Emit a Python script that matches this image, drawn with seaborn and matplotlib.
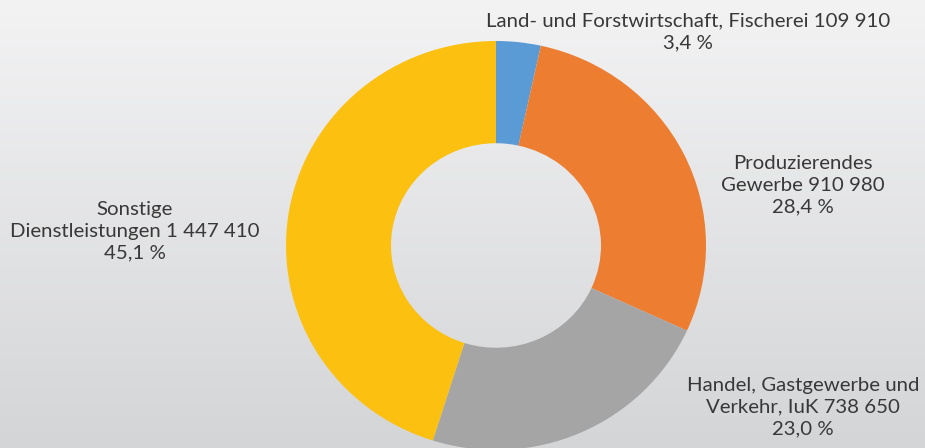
import numpy as np
import matplotlib
matplotlib.use("Agg")
import matplotlib.pyplot as plt
import seaborn as sns

categories = ["Land- und Forstwirtschaft, Fischerei", "Produzierendes\nGewerbe",
              "Handel, Gastgewerbe und\nVerkehr, IuK", "Sonstige\nDienstleistungen"]
values = [109910, 910980, 738650, 1447410]
value_labels = ["109 910", "910 980", "738 650", "1 447 410"]
percent_labels = ["3,4 %", "28,4 %", "23,0 %", "45,1 %"]
colors = ["#5B9BD5", "#ED7D31", "#A5A5A5", "#FCC010"]

sns.set_style("white")
plt.rcParams['font.family'] = ['Lato', 'DejaVu Sans']

W, H = 925, 448
fig = plt.figure(figsize=(W / 100, H / 100), dpi=100)

# gradient background
bg = fig.add_axes([0, 0, 1, 1])
grad = np.linspace(0, 1, 256).reshape(-1, 1)
cmap = matplotlib.colors.LinearSegmentedColormap.from_list("bg", ["#f3f3f4", "#d4d5d7"])
bg.imshow(grad, aspect="auto", cmap=cmap, extent=[0, 1, 0, 1], origin="upper")
bg.set_axis_off()

cx, cy = 496, 448 - 245.5
rx, ry = 210, 204.5
ax = fig.add_axes([(cx - rx) / W, (cy - ry) / H, 2 * rx / W, 2 * ry / H])
ax.pie(values, colors=sns.color_palette(colors), startangle=90, counterclock=False,
       wedgeprops=dict(width=0.5, linewidth=0), radius=1)
ax.set_aspect("auto")
ax.set_xlim(-1, 1)
ax.set_ylim(-1, 1)
ax.set_axis_off()

label_pos = [(688, 32), (803, 185), (803, 407), (135, 231)]
for cat, vl, pl, (px, py) in zip(categories, value_labels, percent_labels, label_pos):
    txt = f"{cat} {vl}\n{pl}"
    fig.text(px / W, 1 - py / H, txt, ha="center", va="center", fontsize=14.7,
             color="#383838", linespacing=1.32, multialignment="center")

fig.savefig("out.png", dpi=100)
